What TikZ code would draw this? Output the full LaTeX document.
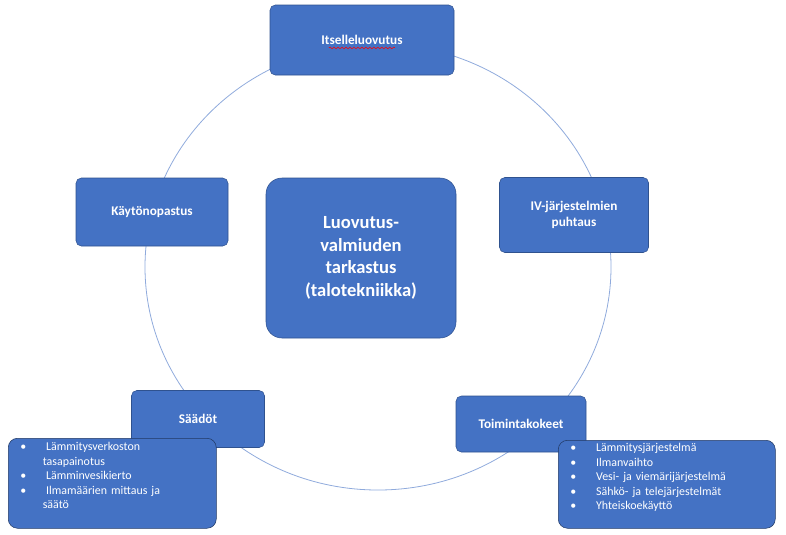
\documentclass[tikz,border=0pt]{standalone}
\usepackage{fontspec}
\setmainfont{Carlito}
\usetikzlibrary{positioning,decorations.pathmorphing}
\definecolor{boxblue}{HTML}{4472C4}
\definecolor{boxline}{HTML}{2F528F}
\tikzstyle{stage}=[draw=boxline, fill=boxblue, rounded corners=4pt, text=white,
  font=\bfseries\fontsize{10}{12}\selectfont, align=center, inner sep=0pt]
\tikzstyle{listbox}=[draw=boxline!70!black, fill=boxblue, rounded corners=7pt, text=white,
  font=\fontsize{9}{11}\selectfont, align=left, inner sep=0pt, anchor=north west]
\tikzstyle{listtext}=[anchor=north west, text=white, font=\fontsize{9}{11}\selectfont,
  align=left, inner sep=0pt]

\begin{document}
\begin{tikzpicture}[x=0.0265cm, y=-0.0265cm]
    \useasboundingbox (0,0) rectangle (786,534);

    % kehä
    \draw[boxblue!60, line width=0.6pt] (378,267) ellipse (233 and 223);

    % vaiheet
    \node[stage, minimum width=184*0.0265cm, minimum height=70*0.0265cm] (itse) at (362,40) {Itselleluovutus};
    \draw[red, decorate, decoration={snake, amplitude=0.6pt, segment length=3pt}]
      ([xshift=-25pt, yshift=-6pt]itse.center) -- ([xshift=25pt, yshift=-6pt]itse.center);
    \node[stage, minimum width=152*0.0265cm, minimum height=68*0.0265cm] (kayt) at (152,212) {Käytönopastus};
    \node[stage, rounded corners=12pt, font=\bfseries\fontsize{14}{17}\selectfont,
      minimum width=190*0.0265cm, minimum height=160*0.0265cm] (keski) at (361,258)
      {Luovutus-\\valmiuden\\tarkastus\\(talotekniikka)};
    \node[stage, minimum width=149*0.0265cm, minimum height=75*0.0265cm] (puht) at (574,215) {IV-järjestelmien\\puhtaus};
    \node[stage, minimum width=133*0.0265cm, minimum height=57*0.0265cm] (saad) at (198,419) {Säädöt};
    \node[stage, minimum width=130*0.0265cm, minimum height=56*0.0265cm] (toim) at (521,424) {Toimintakokeet};

    % luettelot
    \node[listbox, minimum width=208*0.0265cm, minimum height=90*0.0265cm] (saadlista) at (8,438) {};
    \node[listtext, text width=190*0.0265cm] (saadteksti) at (20,442)
      {• \hspace{12pt}Lämmitysverkoston\\
       \hspace*{17pt}tasapainotus\\
       • \hspace{12pt}Lämminvesikierto\\
       • \hspace{12pt}Ilmamäärien mittaus ja\\
       \hspace*{17pt}säätö};
    \node[listbox, minimum width=217*0.0265cm, minimum height=88*0.0265cm] (toimlista) at (558,440) {};
    \node[listtext, text width=200*0.0265cm] (toimteksti) at (570,443)
      {• \hspace{12pt}Lämmitysjärjestelmä\\
       • \hspace{12pt}Ilmanvaihto\\
       • \hspace{12pt}Vesi- ja viemärijärjestelmä\\
       • \hspace{12pt}Sähkö- ja telejärjestelmät\\
       • \hspace{12pt}Yhteiskoekäyttö};
\end{tikzpicture}
\end{document}
